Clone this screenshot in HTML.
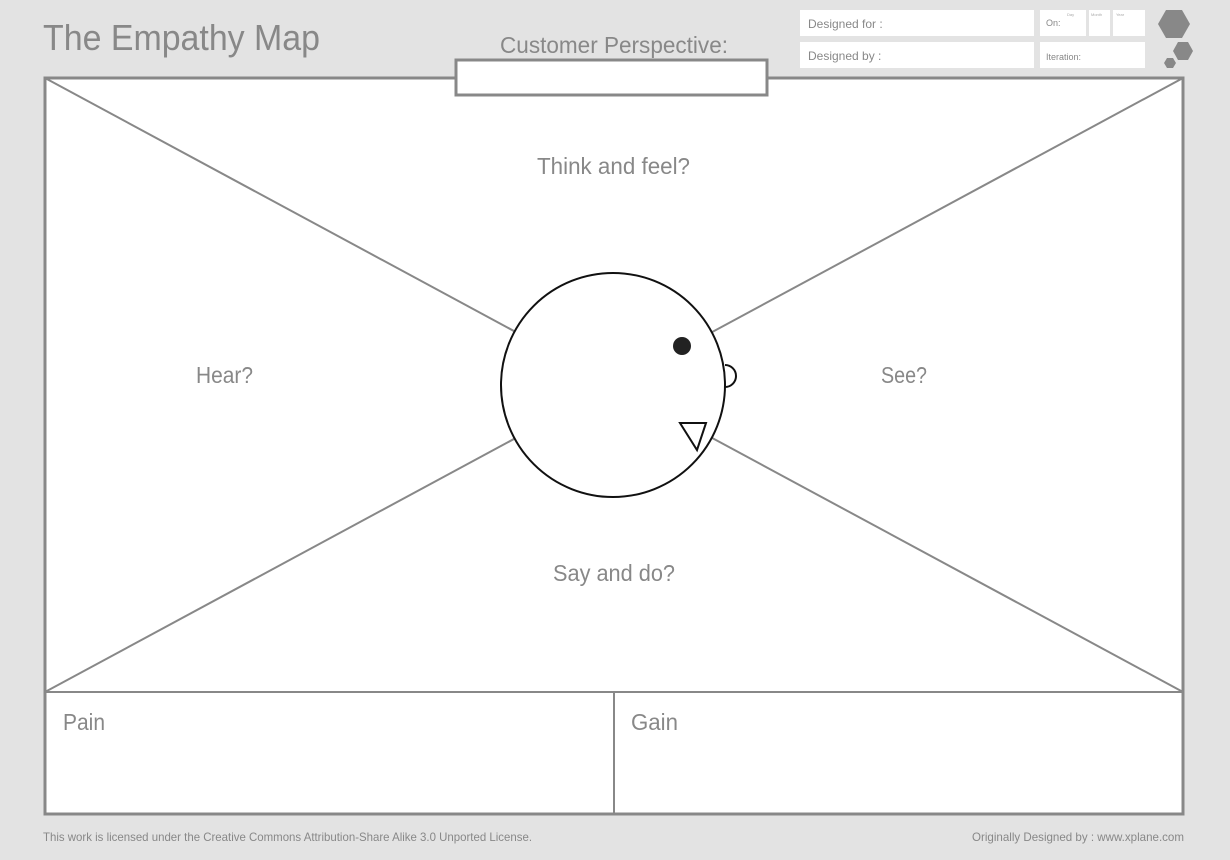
<!DOCTYPE html>
<html><head><meta charset="utf-8"><style>html,body{margin:0;padding:0;background:#e3e3e3}svg{display:block}</style></head>
<body>
<svg width="1230" height="860" viewBox="0 0 1230 860" xmlns="http://www.w3.org/2000/svg" font-family="Liberation Sans, sans-serif">
<rect width="1230" height="860" fill="#e3e3e3"/>
<text x="43" y="50" font-size="36" fill="#888" textLength="277" lengthAdjust="spacingAndGlyphs">The Empathy Map</text>
<text x="500" y="53" font-size="23" fill="#888" textLength="228" lengthAdjust="spacingAndGlyphs">Customer Perspective:</text>
<!-- header boxes -->
<rect x="800" y="10" width="234" height="26" fill="#fff"/>
<rect x="800" y="42" width="234" height="26" fill="#fff"/>
<rect x="1040" y="10" width="46" height="26" fill="#fff"/>
<rect x="1089" y="10" width="21" height="26" fill="#fff"/>
<rect x="1113" y="10" width="32" height="26" fill="#fff"/>
<rect x="1040" y="42" width="105" height="26" fill="#fff"/>
<text x="808" y="28" font-size="12" fill="#888">Designed for :</text>
<text x="808" y="60" font-size="12" fill="#888">Designed by :</text>
<text x="1046" y="26" font-size="9" fill="#888">On:</text>
<text x="1067" y="16" font-size="4" fill="#aaa">Day</text>
<text x="1091" y="16" font-size="4" fill="#aaa">Month</text>
<text x="1116" y="16" font-size="4" fill="#aaa">Year</text>
<text x="1046" y="60" font-size="9" fill="#888">Iteration:</text>
<polygon points="1158,24 1166,10 1182,10 1190,24 1182,38 1166,38" fill="#888"/>
<polygon points="1173,51 1178,42 1188,42 1193,51 1188,60 1178,60" fill="#888"/>
<polygon points="1164,63 1167,58 1173,58 1176,63 1173,68 1167,68" fill="#888"/>
<!-- main -->
<rect x="45" y="78" width="1138" height="736" fill="#fff" stroke="#888" stroke-width="3"/>
<line x1="45" y1="78" x2="1183" y2="692" stroke="#888" stroke-width="2"/>
<line x1="1183" y1="78" x2="45" y2="692" stroke="#888" stroke-width="2"/>
<line x1="45" y1="692" x2="1183" y2="692" stroke="#888" stroke-width="2"/>
<line x1="614" y1="692" x2="614" y2="814" stroke="#888" stroke-width="2"/>
<rect x="456" y="60" width="311" height="35" fill="#fff" stroke="#888" stroke-width="3"/>
<!-- head -->
<path d="M725,365 a11,11 0 0 1 0,22" fill="#fff" stroke="#111" stroke-width="2"/>
<circle cx="613" cy="385" r="112" fill="#fff" stroke="#111" stroke-width="2"/>
<circle cx="682" cy="346" r="9" fill="#222"/>
<polygon points="680,423 706,423 697,450" fill="#fff" stroke="#111" stroke-width="2"/>
<!-- labels -->
<g font-size="23" fill="#888">
<text x="537" y="174" textLength="153" lengthAdjust="spacingAndGlyphs">Think and feel?</text>
<text x="196" y="383" textLength="57" lengthAdjust="spacingAndGlyphs">Hear?</text>
<text x="881" y="383" textLength="46" lengthAdjust="spacingAndGlyphs">See?</text>
<text x="553" y="581" textLength="122" lengthAdjust="spacingAndGlyphs">Say and do?</text>
<text x="63" y="730" textLength="42" lengthAdjust="spacingAndGlyphs">Pain</text>
<text x="631" y="730" textLength="47" lengthAdjust="spacingAndGlyphs">Gain</text>
</g>
<text x="43" y="841" font-size="12" fill="#888" textLength="489" lengthAdjust="spacingAndGlyphs">This work is licensed under the Creative Commons Attribution-Share Alike 3.0 Unported License.</text>
<text x="972" y="841" font-size="12" fill="#888" textLength="212" lengthAdjust="spacingAndGlyphs">Originally Designed by : www.xplane.com</text>
</svg>
</body></html>
